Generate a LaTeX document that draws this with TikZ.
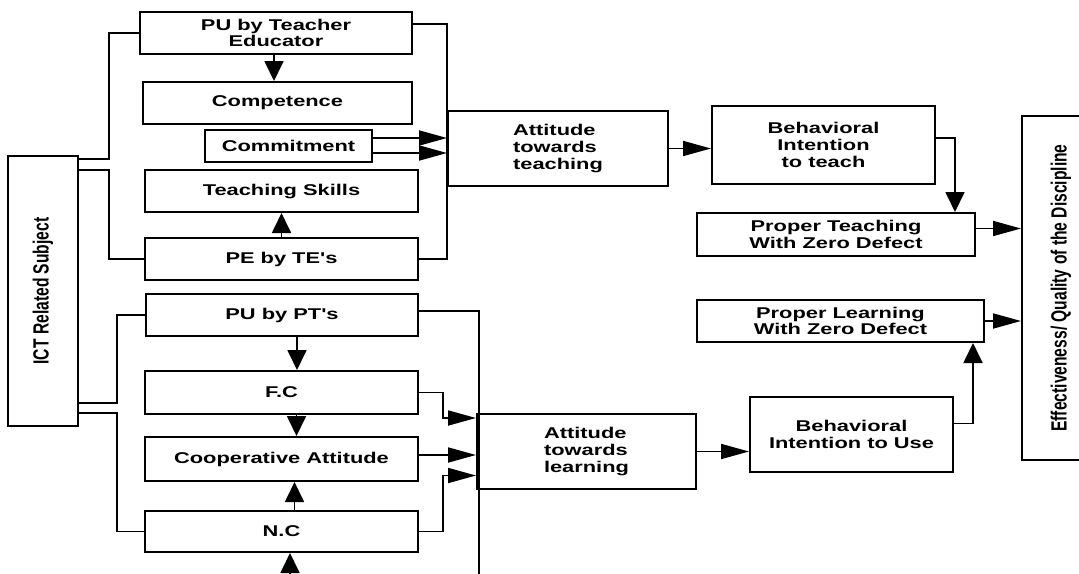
\documentclass[tikz,border=0pt]{standalone}
\usepackage{fontspec}
\usepackage{tikz}
\usetikzlibrary{arrows.meta,calc}
\newfontfamily\boxfont{Liberation Sans}[FakeStretch=1.4]
\newfontfamily\sidefont{Liberation Sans}[FakeStretch=0.71]

\begin{document}
\begin{tikzpicture}[x=1pt, y=-1pt,
    box/.style={draw, line width=2pt, inner sep=0pt, align=center,
        font=\boxfont\bfseries\fontsize{15.6}{16.8}\selectfont},
    side/.style={draw, line width=2pt, inner sep=0pt,
        font=\sidefont\bfseries\fontsize{22}{24}\selectfont},
    link/.style={line width=1.8pt},
    arr/.style={link, -{Triangle[length=28pt,width=15pt]}},
    varr/.style={link, -{Triangle[length=20pt,width=19pt]}}]
    \useasboundingbox (0,0) rectangle (1079,573);
    \clip (0,0) rectangle (1079,573);

    % Subject
    \node[side, minimum width=70pt, minimum height=270pt] (ictbox) at (43,291) {\rotatebox{90}{ICT Related Subject}};

    % Teacher side
    \node[box, minimum width=272pt, minimum height=42pt] (pute) at (276,33) {PU by Teacher\\Educator};
    \node[box, minimum width=269pt, minimum height=42pt] (comp) at (277.5,103) {Competence};
    \node[box, minimum width=167pt, minimum height=32pt] (commit) at (288.5,146) {Commitment};
    \node[box, minimum width=273pt, minimum height=42pt] (skills) at (281.5,191) {Teaching Skills};
    \node[box, minimum width=273pt, minimum height=42pt] (pete) at (281.5,259) {PE by TE's};

    % Learner side
    \node[box, minimum width=272pt, minimum height=42pt] (pupt) at (282,315) {PU by PT's};
    \node[box, minimum width=273pt, minimum height=43pt] (fc) at (281.5,392.5) {F.C};
    \node[box, minimum width=273pt, minimum height=44pt] (coop) at (281.5,459) {Cooperative Attitude};
    \node[box, minimum width=273pt, minimum height=41pt] (nc) at (281.5,531.5) {N.C};

    % Attitudes and intentions
    \node[box, align=left, minimum width=220pt, minimum height=75pt] (atteach) at (558,148.5) {Attitude\\towards\\teaching};
    \node[box, minimum width=223pt, minimum height=78pt] (bit) at (823.5,145) {Behavioral\\Intention\\to teach};
    \node[box, align=left, minimum width=219pt, minimum height=75pt] (atlearn) at (586.5,451.5) {Attitude\\towards\\learning};
    \node[box, minimum width=203pt, minimum height=75pt] (biu) at (851.5,434.5) {Behavioral\\Intention to Use};

    % Outcomes
    \node[box, minimum width=278pt, minimum height=43pt] (ptz) at (836,234.5) {Proper Teaching\\With Zero Defect};
    \node[box, minimum width=287pt, minimum height=42pt] (plz) at (840.5,321) {Proper Learning\\With Zero Defect};
    \node[side, minimum width=78pt, minimum height=344pt] (eff) at (1061,288) {\rotatebox{90}{Effectiveness/ Quality of the Discipline}};

    % loose ends
    \coordinate (busend) at (479,590);
    \coordinate (ncin) at (290,600);

    % Subject to boxes
    \draw[link] (ictbox.north east) ++(0,4) -- ++(30,0) |- (pute.west);
    \draw[link] (ictbox.north east) ++(0,15) -- ++(30,0) |- (pete.west);
    \draw[link] (ictbox.south east) ++(0,-24) -- ++(38,0) |- (pupt.west);
    \draw[link] (ictbox.south east) ++(0,-14) -- ++(38,0) |- (nc.west);

    % Teacher arrows
    \draw[varr] ([xshift=-2pt]pute.south) -- ([xshift=-2pt]pute.south |- comp.north);
    \draw[varr] (pete.north) -- (skills.south);
    \draw[link] ([yshift=9pt]pute.east) -| (atteach.west |- pete.east) -- (pete.east);
    \draw[arr] ([yshift=8pt]commit.east) -- ([yshift=8pt]commit.east -| atteach.west);
    \draw[arr] ([yshift=-7pt]commit.east) -- ([yshift=-7pt]commit.east -| atteach.west);
    \draw[arr] (atteach.east) -- (atteach.east -| bit.west);
    \draw[varr] ([yshift=7pt]bit.east) -| ([xshift=-21pt]ptz.north east);
    \draw[arr] ([yshift=6pt]ptz.east) -- ([yshift=6pt]ptz.east -| eff.west);

    % Learner arrows
    \draw[varr] ([xshift=15pt]pupt.south) -- ([xshift=15pt]pupt.south |- fc.north);
    \draw[varr] ([xshift=15pt]fc.south) -- ([xshift=15pt]fc.south |- coop.north);
    \draw[varr] ([xshift=13pt]nc.north) -- ([xshift=13pt]nc.north |- coop.south);
    \draw[varr] (ncin) -- (ncin |- nc.south);
    \draw[link] ([yshift=4pt]pupt.east) -| (busend);
    \draw[arr] (fc.east) -- ++(24,0) |- ([yshift=-5pt]atlearn.north west);
    \draw[arr] ([yshift=4pt]coop.east) -- ([yshift=4pt]coop.east -| atlearn.west);
    \draw[arr] (nc.east) -- ++(24,0) |- ([yshift=-24pt]atlearn.west);
    \draw[arr] (atlearn.east) -- (atlearn.east -| biu.west);
    \draw[varr] ([yshift=11pt]biu.east) -| ([xshift=-12pt]plz.south east);
    \draw[arr] (plz.east) -- (plz.east -| eff.west);
\end{tikzpicture}
\end{document}
